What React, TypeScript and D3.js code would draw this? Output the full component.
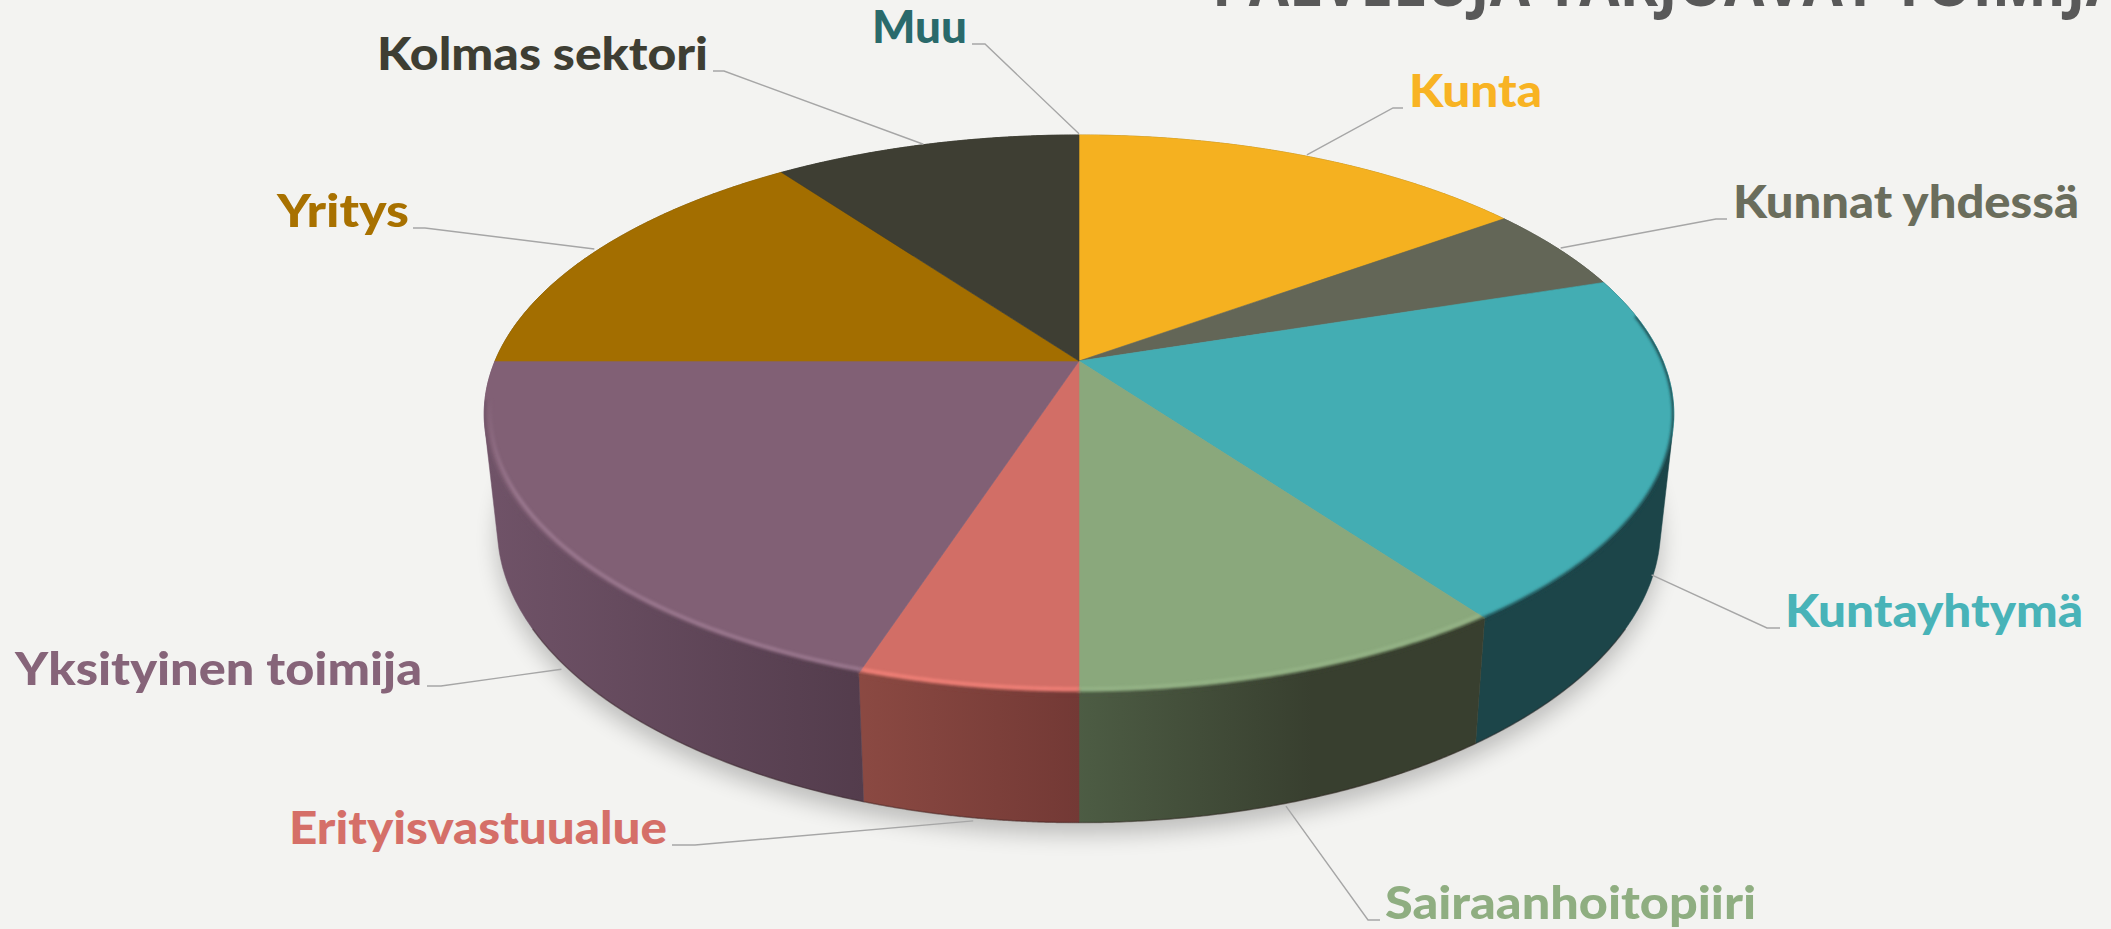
import React from "react";
import * as d3 from "d3";

const categories = ["Kunta", "Kunnat yhdessä", "Kuntayhtymä", "Sairaanhoitopiiri", "Erityisvastuualue", "Yksityinen toimija", "Yritys", "Kolmas sektori", "Muu"];
const shares = [15, 5, 20, 10, 5, 20, 15, 10, 0];
const title = "PALVELUJA TARJOAVAT TOIMIJAT";

const faceColors = ["#f5b120", "#636657", "#43adb3", "#8aa87c", "#d26e66", "#816075", "#a36e00", "#3e3e33", "#2a6a6b"];
const labelColors = ["#f8b323", "#6a6d5c", "#48b3b8", "#8fae81", "#d56f68", "#866479", "#a87100", "#3e3e33", "#2a6a6b"];
const sideLeft = ["#8a6a14", "#3a3c32", "#1c4549", "#4e5e45", "#8c4a43", "#705368", "#5e4000", "#25251e", "#183c3c"];
const sideRight = ["#8a6a14", "#3a3c32", "#1c4549", "#383f2f", "#733935", "#533c4c", "#5e4000", "#25251e", "#183c3c"];
const rimColors = [null, null, null, "#9ab98c", "#ff8a80", "#a5829a", null, null, null];

// label layout: text left edge, text width, baseline, elbow x, line start x, anchor nudges
const labelX = [1409, 1733, 1785, 1385, 289, 15, 277, 377, 872];
const labelW = [133, 346, 298, 371, 378, 407, 132, 331, 95];
const labelY = [107, 218, 627, 919, 844, 685, 227, 70, 43];
const elbowX = [1393, 1716, 1767, 1368, 695, 441, 425, 724, 985];
const startX = [1403, 1727, 1780, 1380, 672, 427, 413, 713, 972];
const nudgeX = [0, 0, -8, -10, 5, 6, -3, -2, 0];
const nudgeY = [0, 0, 9, 2, 1, 8, 1, 1, 0];

const W = 2111;
const H = 929;
const cx = 1079;
const k = -0.19;
const topPlane = { y0: 361, A: 584, B: 269 };
const botPlane = { y0: 472, A: 571, B: 284 };

type Plane = typeof topPlane;
type Pt = [number, number];
const project = (p: Plane, a: number, r = 1): Pt => {
  const X = r * Math.sin(a);
  const Y = -r * Math.cos(a);
  const w = 1 + k * Y;
  return [cx + (p.A * X) / w, p.y0 + (p.B * Y) / w];
};
const arcPts = (p: Plane, a0: number, a1: number, r = 1): Pt[] =>
  d3.range(0, 121).map((i) => project(p, a0 + ((a1 - a0) * i) / 120, r));
const line = d3.line<Pt>().x((d) => d[0]).y((d) => d[1]);

const slices = d3.pie<number>().sort(null).value((d) => d)(shares);
const rad = (deg: number) => (deg * Math.PI) / 180;

export default function App() {
  const fullEllipse = arcPts(topPlane, 0, 2 * Math.PI);
  const bottomEllipse = arcPts(botPlane, 0, 2 * Math.PI);
  const hull = d3.polygonHull([...fullEllipse, ...bottomEllipse]) as Pt[];
  return (
    <svg width={W} height={H} viewBox={`0 0 ${W} ${H}`} style={{ position: "absolute", left: 0, top: 0, display: "block" }}>
      <defs>
        <filter id="shadow" filterUnits="userSpaceOnUse" x="0" y="0" width={W} height={H}>
          <feGaussianBlur stdDeviation="11" />
        </filter>
        <filter id="soft" filterUnits="userSpaceOnUse" x="0" y="0" width={W} height={H}>
          <feGaussianBlur stdDeviation="1.4" />
        </filter>
        <clipPath id="faceClip">
          <path d={line(fullEllipse) + "Z"} />
        </clipPath>
        <clipPath id="hullClip">
          <path d={line(hull) + "Z"} />
        </clipPath>
        <linearGradient id="rimFade" gradientUnits="userSpaceOnUse" x1="0" x2="0" y1="395" y2="500">
          <stop offset="0" stopColor="#000" />
          <stop offset="1" stopColor="#fff" />
        </linearGradient>
        <mask id="rimMask" maskUnits="userSpaceOnUse" x="0" y="0" width={W} height={H}>
          <rect width={W} height={H} fill="url(#rimFade)" />
        </mask>
        {slices.map((s, i) => {
          const xs = arcPts(botPlane, s.startAngle, s.endAngle).map((d) => d[0]);
          return (
            <linearGradient key={i} id={`side${i}`} gradientUnits="userSpaceOnUse" x1={(d3.min(xs) as number) - 14} x2={(d3.max(xs) as number) + 1} y1="0" y2="0">
              <stop offset="0" stopColor={sideLeft[i]} />
              <stop offset={i === 3 ? 0.6 : 1} stopColor={sideRight[i]} />
            </linearGradient>
          );
        })}
      </defs>
      <rect width={W} height={H} fill="#f3f3f1" />

      <text x={1212} y={6} fontFamily="'Open Sans', sans-serif" fontWeight={700} fontSize={64} fill="#595959" textLength={948} lengthAdjust="spacingAndGlyphs">
        {title}
      </text>

      <path d={line(bottomEllipse.map(([x, y]) => [x, y + 12] as Pt)) + "Z"} fill="#000" opacity={0.22} filter="url(#shadow)" />

      {slices.map((s, i) => {
        if (s.endAngle === s.startAngle) return null;
        const topArc = arcPts(topPlane, s.startAngle, s.endAngle);
        const botArc = arcPts(botPlane, s.startAngle, s.endAngle);
        const shape = d3.polygonHull([...topArc, ...botArc]) as Pt[];
        const e0 = Math.max(s.startAngle, rad(120));
        const e1 = Math.min(s.endAngle, rad(240));
        return (
          <g key={i}>
            <path d={line(shape) + "Z"} fill={`url(#side${i})`} stroke={`url(#side${i})`} strokeWidth={0.5} />
            {e1 > e0 && <path d={line(arcPts(botPlane, e0, e1))!} fill="none" stroke="#2a1a1a" strokeOpacity={0.35} strokeWidth={1.5} />}
          </g>
        );
      })}

      {slices.map((s, i) => {
        if (s.endAngle === s.startAngle) return null;
        const d = line([[cx, topPlane.y0], ...arcPts(topPlane, s.startAngle, s.endAngle)]) + "Z";
        return <path key={i} d={d} fill={faceColors[i]} stroke={faceColors[i]} strokeWidth={0.6} />;
      })}

      {slices.map((s, i) => {
        const a0 = Math.max(s.startAngle, rad(80));
        const a1 = Math.min(s.endAngle, rad(262));
        if (a1 <= a0) return null;
        return (
          <g key={i}>
            <g clipPath="url(#hullClip)">
              <path d={line(arcPts(topPlane, a0, a1))!} fill="none" stroke={`url(#side${i})`} strokeWidth={3.5} filter="url(#soft)" />
            </g>
            {rimColors[i] && (
              <g clipPath="url(#faceClip)" mask="url(#rimMask)">
                <path d={line(arcPts(topPlane, a0, a1, 0.99))!} fill="none" stroke={rimColors[i]!} strokeWidth={3} strokeOpacity={0.8} filter="url(#soft)" />
              </g>
            )}
          </g>
        );
      })}

      {slices.map((s, i) => {
        const mid = (s.startAngle + s.endAngle) / 2;
        const front = mid > Math.PI / 2 && mid < (3 * Math.PI) / 2;
        const [ax, ay] = project(front ? botPlane : topPlane, mid, 1.006);
        const ly = labelY[i] + 1;
        return (
          <path
            key={i}
            d={line([[ax + nudgeX[i], ay + nudgeY[i]], [elbowX[i], ly], [startX[i], ly]])!}
            fill="none"
            stroke="#a6a6a6"
            strokeWidth={1.4}
          />
        );
      })}

      {categories.map((c, i) => (
        <text
          key={c}
          x={labelX[i]}
          y={labelY[i]}
          fontFamily="Lato, sans-serif"
          fontWeight={900}
          fontSize={46}
          fill={labelColors[i]}
          textLength={labelW[i]}
          lengthAdjust="spacingAndGlyphs"
        >
          {c}
        </text>
      ))}
    </svg>
  );
}
